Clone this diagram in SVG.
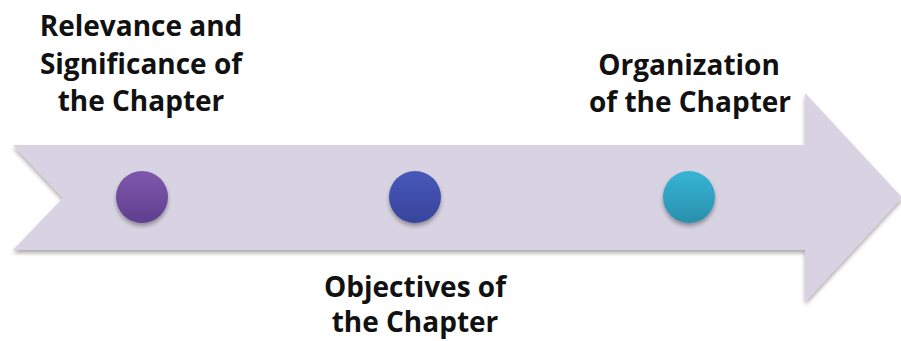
<svg xmlns="http://www.w3.org/2000/svg" width="901" height="341" viewBox="0 0 901 341">
<style>
.lbl{font-family:"Open Sans","Liberation Sans",sans-serif;font-weight:700;font-size:28px;fill:#111;text-anchor:middle}
</style>
<defs>
<linearGradient id="gP" x1="0" y1="0" x2="0" y2="1"><stop offset="0" stop-color="#7f58ad"/><stop offset="1" stop-color="#5f3f8e"/></linearGradient>
<linearGradient id="gB" x1="0" y1="0" x2="0" y2="1"><stop offset="0" stop-color="#4858ba"/><stop offset="1" stop-color="#37449b"/></linearGradient>
<linearGradient id="gT" x1="0" y1="0" x2="0" y2="1"><stop offset="0" stop-color="#36b5d6"/><stop offset="1" stop-color="#2a8fad"/></linearGradient>
<filter id="sh" x="-20%" y="-20%" width="140%" height="150%"><feGaussianBlur in="SourceAlpha" stdDeviation="2"/><feOffset dy="3"/><feComponentTransfer><feFuncA type="linear" slope="0.35"/></feComponentTransfer><feMerge><feMergeNode/><feMergeNode in="SourceGraphic"/></feMerge></filter>
</defs>
<g id="arrow">
<path d="M13,145 L805,145 L805,93 L902,197.5 L805,302 L805,250 L13,250 L63,198 Z" fill="#d8d3e2" filter="url(#sh)"/>
</g>
<g id="node-relevance">
<circle cx="142" cy="197" r="26" fill="url(#gP)" filter="url(#sh)"/>
<text class="lbl" x="141" y="36">Relevance and</text>
<text class="lbl" x="141" y="74">Significance of</text>
<text class="lbl" x="141" y="111">the Chapter</text>
</g>
<g id="node-objectives">
<circle cx="415" cy="197" r="26" fill="url(#gB)" filter="url(#sh)"/>
<text class="lbl" x="415" y="297">Objectives of</text>
<text class="lbl" x="415" y="332">the Chapter</text>
</g>
<g id="node-organization">
<circle cx="689" cy="197" r="26" fill="url(#gT)" filter="url(#sh)"/>
<text class="lbl" x="689" y="75">Organization</text>
<text class="lbl" x="690" y="112">of the Chapter</text>
</g>
<g id="connectors"></g>
</svg>
